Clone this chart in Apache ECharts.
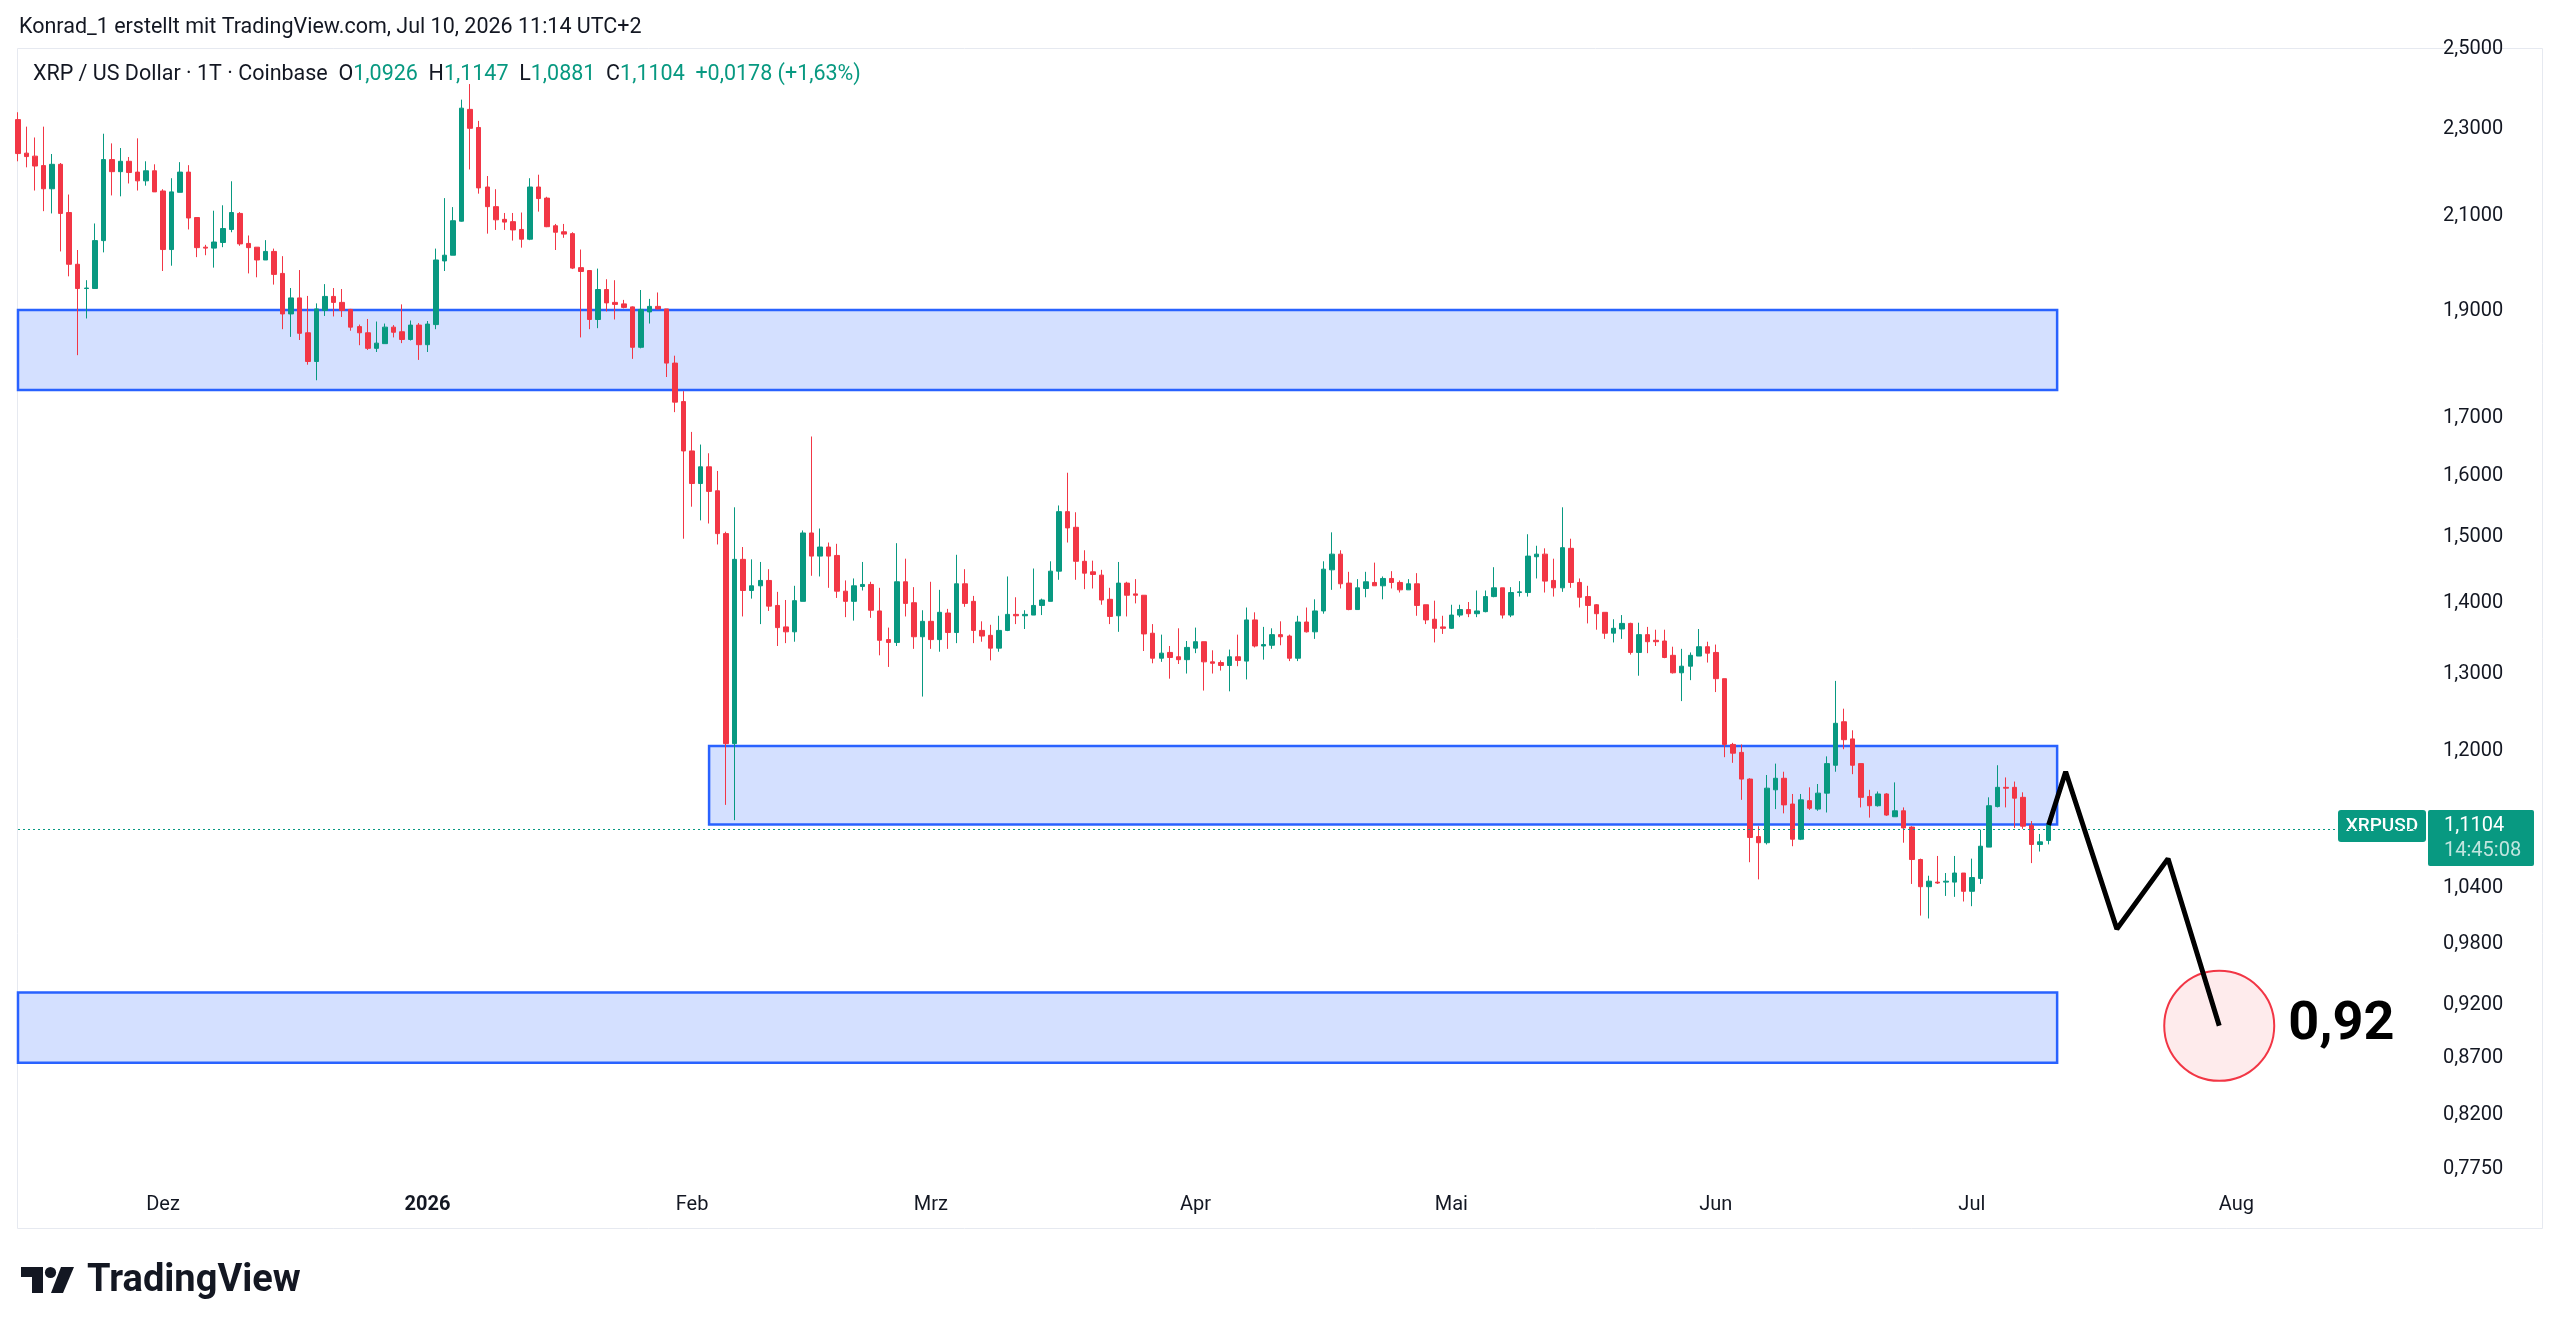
<!DOCTYPE html>
<html lang="de">
<head>
    <meta charset="UTF-8">
    <title>XRP / US Dollar</title>
    <script src="https://cdn.jsdelivr.net/npm/echarts@6/dist/echarts.min.js"></script>
    <style>
        html, body { margin: 0; padding: 0; background: #fff; }
        #main { width: 2560px; height: 1335px; }
    </style>
</head>
<body>
<div id="main"></div>
<script type="text/javascript">
    // Tageskerzen XRP/USD (Coinbase), 14.11.2025 - 10.07.2026
    var open = [2.322,2.242,2.235,2.213,2.160,2.216,2.107,1.996,1.946,1.946,2.046,2.227,2.199,2.223,2.198,2.178,2.201,2.155,2.027,2.152,
        2.198,2.096,2.032,2.030,2.042,2.070,2.105,2.040,2.032,2.005,2.023,1.977,1.895,1.927,1.858,1.803,1.902,1.930,1.918,1.904,
        1.870,1.858,1.828,1.837,1.869,1.860,1.845,1.873,1.835,1.874,2.003,2.015,2.088,2.347,2.303,2.164,2.120,2.092,2.087,2.070,
        2.049,2.164,2.139,2.078,2.065,2.061,1.989,1.983,1.884,1.944,1.918,1.915,1.909,1.830,1.899,1.910,1.905,1.800,1.729,1.642,
        1.587,1.615,1.575,1.506,1.209,1.466,1.419,1.426,1.434,1.397,1.366,1.359,1.403,1.507,1.471,1.485,1.472,1.418,1.403,1.425,
        1.428,1.389,1.348,1.344,1.432,1.401,1.352,1.374,1.348,1.386,1.358,1.429,1.403,1.361,1.354,1.336,1.361,1.384,1.382,1.383,
        1.397,1.403,1.448,1.541,1.516,1.463,1.447,1.442,1.406,1.382,1.430,1.414,1.412,1.357,1.322,1.330,1.324,1.320,1.336,1.345,
        1.317,1.316,1.312,1.324,1.318,1.376,1.339,1.340,1.355,1.353,1.322,1.373,1.359,1.389,1.450,1.474,1.430,1.391,1.422,1.431,
        1.426,1.437,1.431,1.420,1.429,1.398,1.377,1.366,1.364,1.383,1.391,1.385,1.388,1.410,1.423,1.383,1.416,1.416,1.470,1.474,
        1.434,1.423,1.483,1.431,1.410,1.398,1.387,1.357,1.363,1.371,1.330,1.355,1.347,1.346,1.326,1.302,1.311,1.325,1.338,1.330,
        1.294,1.208,1.198,1.165,1.097,1.090,1.152,1.166,1.135,1.094,1.139,1.129,1.148,1.182,1.237,1.215,1.184,1.144,1.133,1.147,
        1.120,1.127,1.108,1.071,1.041,1.046,1.046,1.046,1.056,1.036,1.050,1.085,1.132,1.155,1.155,1.143,1.110,1.088,1.0926];
    var high = [2.340,2.305,2.279,2.305,2.240,2.219,2.147,2.026,1.963,2.083,2.288,2.265,2.254,2.233,2.277,2.223,2.216,2.159,2.184,2.221,
        2.214,2.096,2.037,2.111,2.123,2.177,2.108,2.057,2.032,2.047,2.029,2.013,1.947,1.984,1.931,1.916,1.955,1.947,1.945,1.905,
        1.874,1.885,1.880,1.876,1.873,1.914,1.882,1.877,1.881,2.029,2.139,2.119,2.371,2.410,2.319,2.189,2.159,2.106,2.106,2.107,
        2.184,2.192,2.142,2.082,2.082,2.064,2.027,1.984,1.987,1.965,1.963,1.923,1.910,1.943,1.925,1.938,1.905,1.814,1.748,1.675,
        1.653,1.638,1.608,1.509,1.548,1.485,1.466,1.462,1.451,1.417,1.405,1.426,1.511,1.667,1.514,1.492,1.490,1.434,1.437,1.462,
        1.432,1.423,1.365,1.491,1.467,1.424,1.390,1.432,1.420,1.392,1.473,1.451,1.411,1.374,1.369,1.382,1.440,1.409,1.390,1.452,
        1.407,1.463,1.551,1.605,1.540,1.480,1.464,1.450,1.423,1.462,1.432,1.436,1.412,1.370,1.355,1.339,1.364,1.346,1.365,1.345,
        1.333,1.319,1.334,1.355,1.394,1.387,1.366,1.364,1.374,1.355,1.382,1.394,1.406,1.463,1.508,1.480,1.447,1.436,1.447,1.461,
        1.440,1.448,1.434,1.436,1.445,1.398,1.404,1.382,1.398,1.398,1.402,1.419,1.419,1.454,1.423,1.424,1.433,1.505,1.487,1.483,
        1.467,1.548,1.498,1.437,1.426,1.399,1.387,1.377,1.383,1.372,1.372,1.366,1.362,1.362,1.338,1.335,1.330,1.363,1.345,1.341,
        1.294,1.210,1.208,1.166,1.109,1.170,1.184,1.174,1.147,1.147,1.155,1.159,1.193,1.291,1.254,1.226,1.184,1.152,1.150,1.148,
        1.161,1.131,1.109,1.072,1.053,1.075,1.056,1.075,1.056,1.072,1.105,1.143,1.182,1.167,1.162,1.149,1.115,1.100,1.1147];
    var low = [2.223,2.209,2.156,2.110,2.105,2.023,1.971,1.815,1.886,1.946,2.021,2.145,2.143,2.172,2.156,2.167,2.153,1.982,1.993,2.152,
        2.070,2.011,2.015,1.989,2.032,2.064,2.035,1.977,1.969,2.005,1.954,1.865,1.850,1.844,1.797,1.768,1.891,1.890,1.889,1.862,
        1.834,1.825,1.821,1.837,1.849,1.838,1.843,1.806,1.821,1.865,1.982,2.015,2.087,2.204,2.149,2.061,2.069,2.069,2.046,2.031,
        2.047,2.109,2.075,2.026,2.052,1.986,1.849,1.865,1.867,1.900,1.884,1.906,1.808,1.828,1.876,1.904,1.774,1.710,1.498,1.549,
        1.527,1.522,1.489,1.134,1.116,1.381,1.407,1.370,1.389,1.339,1.343,1.345,1.403,1.441,1.440,1.423,1.408,1.380,1.375,1.419,
        1.379,1.326,1.310,1.339,1.381,1.335,1.270,1.335,1.331,1.335,1.343,1.395,1.343,1.345,1.319,1.331,1.360,1.370,1.363,1.383,
        1.383,1.403,1.435,1.492,1.435,1.421,1.422,1.398,1.370,1.359,1.381,1.400,1.332,1.315,1.317,1.294,1.314,1.301,1.329,1.278,
        1.301,1.305,1.277,1.311,1.293,1.337,1.320,1.335,1.340,1.318,1.318,1.358,1.349,1.385,1.420,1.422,1.390,1.391,1.409,1.426,
        1.406,1.422,1.416,1.420,1.382,1.370,1.344,1.356,1.363,1.380,1.380,1.380,1.387,1.409,1.378,1.380,1.410,1.410,1.437,1.416,
        1.410,1.417,1.423,1.394,1.371,1.362,1.349,1.344,1.349,1.327,1.298,1.329,1.339,1.322,1.301,1.264,1.292,1.325,1.316,1.276,
        1.192,1.185,1.140,1.068,1.049,1.088,1.129,1.124,1.086,1.093,1.128,1.127,1.125,1.174,1.202,1.171,1.131,1.119,1.132,1.121,
        1.120,1.090,1.044,1.010,1.007,1.044,1.031,1.030,1.025,1.020,1.044,1.085,1.131,1.131,1.107,1.106,1.067,1.080,1.0881];
    var close = [2.241,2.234,2.212,2.160,2.216,2.105,1.996,1.946,1.947,2.046,2.227,2.199,2.223,2.197,2.178,2.201,2.153,2.027,2.153,2.198,
        2.095,2.031,2.030,2.043,2.072,2.107,2.039,2.031,2.005,2.023,1.975,1.895,1.927,1.857,1.803,1.905,1.930,1.918,1.902,1.869,
        1.858,1.828,1.838,1.869,1.859,1.845,1.873,1.835,1.875,2.005,2.015,2.089,2.350,2.301,2.162,2.120,2.091,2.086,2.069,2.049,
        2.164,2.138,2.076,2.064,2.060,1.988,1.981,1.884,1.944,1.917,1.914,1.908,1.830,1.904,1.910,1.905,1.800,1.728,1.642,1.587,
        1.615,1.574,1.506,1.209,1.466,1.419,1.426,1.434,1.396,1.365,1.359,1.404,1.507,1.471,1.485,1.471,1.418,1.403,1.426,1.428,
        1.390,1.347,1.344,1.432,1.400,1.352,1.374,1.348,1.387,1.358,1.429,1.400,1.361,1.353,1.336,1.361,1.384,1.382,1.384,1.397,
        1.405,1.448,1.541,1.515,1.463,1.445,1.443,1.405,1.381,1.430,1.412,1.412,1.356,1.322,1.329,1.323,1.320,1.337,1.345,1.317,
        1.315,1.312,1.324,1.319,1.376,1.339,1.341,1.355,1.352,1.322,1.373,1.359,1.389,1.451,1.474,1.429,1.391,1.423,1.432,1.426,
        1.437,1.431,1.420,1.429,1.397,1.376,1.364,1.364,1.383,1.391,1.385,1.389,1.410,1.423,1.383,1.416,1.417,1.471,1.474,1.433,
        1.423,1.484,1.431,1.409,1.397,1.385,1.357,1.364,1.371,1.330,1.355,1.345,1.345,1.323,1.302,1.311,1.326,1.338,1.329,1.294,
        1.208,1.197,1.165,1.096,1.090,1.154,1.166,1.134,1.094,1.140,1.130,1.148,1.184,1.235,1.214,1.182,1.143,1.133,1.147,1.122,
        1.127,1.107,1.071,1.041,1.047,1.045,1.047,1.056,1.036,1.051,1.086,1.133,1.155,1.154,1.142,1.109,1.088,1.091,1.1104];

    // Preisachse (log) und Zeitachse
    var yTicks = [2.5, 2.3, 2.1, 1.9, 1.7, 1.6, 1.5, 1.4, 1.3, 1.2, 1.04, 0.98, 0.92, 0.87, 0.82, 0.775];
    var monthNames = ['Jan','Feb','Mrz','Apr','Mai','Jun','Jul','Aug','Sep','Okt','Nov','Dez'];
    var yMin = 0.766, yMax = 2.5;

    // Zonen (Rechtecke)
    var zoneStart = ['2025-11-14', '2026-02-03', '2025-11-14'];
    var zoneEnd = ['2026-07-11', '2026-07-11', '2026-07-11'];
    var zoneTop = [1.903, 1.206, 0.932];
    var zoneBottom = [1.750, 1.111, 0.866];

    // Prognose-Pfad und Ziel
    var pathDates = ['2026-07-10', '2026-07-12', '2026-07-18', '2026-07-24', '2026-07-30'];
    var pathPrices = [1.1104, 1.174, 0.996, 1.072, 0.900];
    var targetDate = '2026-07-30', targetPrice = 0.900, targetText = '0,92';
    var lastClose = 1.1104;

    // Kategorien: ein Tag je Eintrag bis 23.08.2026
    var dates = [];
    var t0 = Date.UTC(2025, 10, 14);
    for (var i = 0; i < 283; i++) {
        dates.push(new Date(t0 + i * 86400000).toISOString().slice(0, 10));
    }

    var ln = Math.log;
    var candles = [];
    for (var k = 0; k < open.length; k++) {
        candles.push([ln(open[k]), ln(close[k]), ln(low[k]), ln(high[k])]);
    }
    var zones = [];
    for (var z = 0; z < zoneTop.length; z++) {
        zones.push([{xAxis: zoneStart[z], yAxis: ln(zoneTop[z])}, {xAxis: zoneEnd[z], yAxis: ln(zoneBottom[z])}]);
    }
    var path = pathDates.map(function (d, j) { return [d, ln(pathPrices[j])]; });

    var fmt = function (v) { return Math.exp(v).toFixed(4).replace('.', ','); };
    var UP = '#089981', DOWN = '#f23645', TXT = '#131722', FONT = 'Roboto, sans-serif';

    var myChart = echarts.init(document.getElementById('main'));
    myChart.setOption({
        animation: false,
        backgroundColor: '#ffffff',
        grid: {left: 18, top: 49, width: 2406, height: 1131},
        xAxis: {
            type: 'category',
            data: dates,
            boundaryGap: false,
            axisLine: {show: false},
            axisTick: {show: false},
            splitLine: {show: false},
            axisLabel: {
                color: TXT, fontSize: 20, fontFamily: FONT, margin: 15,
                interval: function (idx, val) { return val.slice(8) === '01'; },
                formatter: function (val) {
                    var m = +val.slice(5, 7);
                    return m === 1 ? '{b|' + val.slice(0, 4) + '}' : monthNames[m - 1];
                },
                rich: {b: {fontWeight: 'bold', fontSize: 20, color: TXT, fontFamily: FONT}}
            }
        },
        yAxis: {
            type: 'value',
            position: 'right',
            min: ln(yMin),
            max: ln(yMax),
            axisLine: {show: false},
            axisTick: {show: false},
            splitLine: {show: false},
            axisLabel: {
                customValues: yTicks.map(ln),
                formatter: fmt,
                color: TXT, fontSize: 20, fontFamily: FONT, align: 'left', margin: 19
            }
        },
        series: [
            {
                type: 'candlestick',
                data: candles,
                barWidth: 5,
                z: 3,
                itemStyle: {color: UP, color0: DOWN, borderColor: UP, borderColor0: DOWN, borderWidth: 1},
                markArea: {
                    silent: true,
                    itemStyle: {color: 'rgba(41,98,255,0.2)', borderColor: '#2962ff', borderWidth: 2.5},
                    data: zones
                },
                markLine: {
                    silent: true,
                    symbol: 'none',
                    label: {show: false},
                    lineStyle: {color: UP, type: [2, 3], width: 1},
                    data: [{yAxis: ln(lastClose)}]
                }
            },
            {
                type: 'scatter',
                z: 4,
                data: [[targetDate, ln(targetPrice)]],
                symbolSize: 110,
                itemStyle: {color: 'rgba(242,54,69,0.1)', borderColor: DOWN, borderWidth: 2, opacity: 1},
                label: {
                    show: true, position: 'right', distance: 13, formatter: targetText,
                    fontSize: 54, fontWeight: 'bold', color: '#000', fontFamily: FONT
                }
            },
            {
                type: 'line',
                z: 5,
                data: path,
                symbol: 'none',
                lineStyle: {color: '#000', width: 5}
            }
        ]
    });

    // Beschriftungen (Kopf, Legende, Preis-Label, Logo)
    var py = myChart.convertToPixel({yAxisIndex: 0}, ln(lastClose));
    myChart.setOption({
        graphic: [
            {type: 'rect', shape: {x: 17.5, y: 48.5, width: 2525, height: 1180}, style: {fill: null, stroke: '#e6e9f0', lineWidth: 1}, silent: true},
            {type: 'text', x: 19, y: 28, style: {text: 'Konrad_1 erstellt mit TradingView.com, Jul 10, 2026 11:14 UTC+2', fill: TXT, fontSize: 21.5, fontFamily: FONT, verticalAlign: 'middle'}},
            {type: 'text', x: 33, y: 75, style: {
                text: '{d|XRP / US Dollar · 1T · Coinbase}  {d|O}{g|1,0926}  {d|H}{g|1,1147}  {d|L}{g|1,0881}  {d|C}{g|1,1104}  {g|+0,0178 (+1,63%)}',
                fontSize: 21.5, fontFamily: FONT, verticalAlign: 'middle',
                rich: {d: {fill: TXT, fontSize: 21.5, fontFamily: FONT}, g: {fill: UP, fontSize: 21.5, fontFamily: FONT}}
            }},
            {type: 'rect', shape: {x: 2338, y: py - 15, width: 88, height: 32, r: 3}, style: {fill: UP}},
            {type: 'text', x: 2382, y: py + 1, style: {text: 'XRPUSD', fill: '#fff', fontSize: 19, fontWeight: 500, fontFamily: FONT, align: 'center', verticalAlign: 'middle'}},
            {type: 'rect', shape: {x: 2428, y: py - 15, width: 106, height: 56, r: 2}, style: {fill: UP}},
            {type: 'text', x: 2444, y: py + 1, style: {text: '1,1104', fill: '#fff', fontSize: 20, fontFamily: FONT, verticalAlign: 'middle'}},
            {type: 'text', x: 2444, y: py + 26, style: {text: '14:45:08', fill: 'rgba(255,255,255,0.75)', fontSize: 20, fontFamily: FONT, verticalAlign: 'middle'}},
            {type: 'polygon', shape: {points: [[21, 1267], [43, 1267], [43, 1293], [32, 1293], [32, 1277], [21, 1277]]}, style: {fill: '#131722'}},
            {type: 'circle', shape: {cx: 50.5, cy: 1272.5, r: 5.6}, style: {fill: '#131722'}},
            {type: 'polygon', shape: {points: [[61, 1267], [74, 1267], [63, 1293], [51, 1293]]}, style: {fill: '#131722'}},
            {type: 'text', x: 87, y: 1281, style: {text: 'TradingView', fill: '#131722', fontSize: 38, fontWeight: 'bold', fontFamily: FONT, verticalAlign: 'middle'}}
        ]
    });
</script>
</body>
</html>
